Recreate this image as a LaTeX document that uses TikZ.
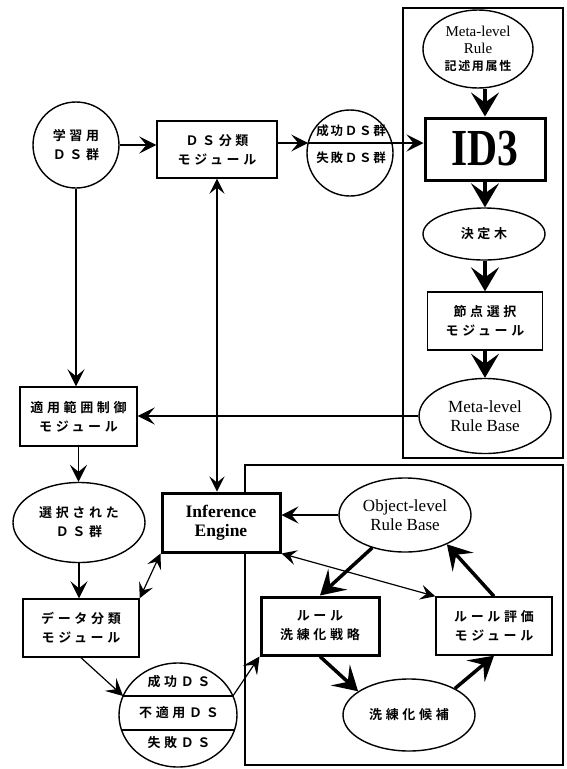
\documentclass[tikz,border=0pt]{standalone}
\usepackage{fontspec}
\setmainfont{Liberation Serif}
\newfontfamily\jp{Noto Sans CJK JP Bold}[LetterSpace=28]
\newfontfamily\jpt{Noto Sans CJK JP Bold}[LetterSpace=14]
\usetikzlibrary{arrows.meta,shapes.geometric,calc}
\begin{document}
\begin{tikzpicture}[x=1pt,y=-1pt,
  every node/.style={inner sep=0pt,align=center},
  jpf/.style={font=\jp\fontsize{13}{19}\selectfont},
  jps/.style={font=\jpt\fontsize{12.5}{17}\selectfont},
  box/.style={draw,line width=1.4pt,fill=white,jpf},
  tbox/.style={draw,line width=3pt,fill=white,jpf},
  ell/.style={draw,ellipse,line width=1.4pt,fill=white,jpf},
  circ/.style={draw,circle,line width=1.4pt,fill=white,jpf},
  frame/.style={line width=1.3pt},
  thin/.style={line width=1.2pt},
  arr/.style={thin,-{Stealth[length=17pt,width=17pt,inset=7pt]}},
  darr/.style={thin,{Stealth[length=15pt,width=15pt,inset=6pt]}-{Stealth[length=15pt,width=15pt,inset=6pt]}},
  tarr/.style={line width=3.5pt,-{Stealth[length=24pt,width=28pt,inset=10pt]}},
  eng/.style={font=\rmfamily\fontsize{17}{19}\selectfont}
]
\useasboundingbox (0,0) rectangle (566,769);
% frames
\draw[frame] (403,8) rectangle (563,458);
\draw[frame] (245,465) rectangle (563,765);

% top-left nodes
\node[circ,minimum size=86pt] (learn) at (76,145) {学習用\\ＤＳ群};
\node[box,minimum width=120pt,minimum height=57pt] (ds) at (217,149.5) {ＤＳ分類\\モジュール};
\node[circ,minimum size=86pt] (cs) at (350,153) {};
\node[jps] (cst) at (351,131) {成功ＤＳ群};
\node[jps] (csb) at (351,158) {失敗ＤＳ群};
\path (cs.center) ++(-41.8,-10) coordinate (cdl) (cs.center) ++(41.8,-10) coordinate (cdr);

% right column
\node[ell,minimum width=110pt,minimum height=78pt,font=\rmfamily\fontsize{15}{17}\selectfont] (meta) at (478,49) {Meta-level\\Rule\\\jpt\fontsize{12}{17}\selectfont 記述用属性};
\node[tbox,minimum width=120pt,minimum height=62pt,font=\rmfamily\bfseries\fontsize{52}{52}\selectfont] (id3) at (485,149) {\scalebox{0.8}[1]{ID3}};
\node[ell,minimum width=122pt,minimum height=52pt] (dtree) at (484,234) {決定木};
\node[box,minimum width=115pt,minimum height=58pt] (nsel) at (485,321) {節点選択\\モジュール};
\node[ell,minimum width=132pt,minimum height=75pt,eng] (mrb) at (485,416) {Meta-level\\Rule Base};

% left column
\node[box,minimum width=117pt,minimum height=59pt] (apply) at (78.5,416.5) {適用範囲制御\\モジュール};
\node[ell,minimum width=132pt,minimum height=80pt] (sel) at (79,522.5) {選択された\\ＤＳ群};
\node[tbox,minimum width=118pt,minimum height=59pt,font=\rmfamily\bfseries\fontsize{17.5}{19}\selectfont] (ie) at (221,522.5) {Inference\\Engine};
\node[box,minimum width=116pt,minimum height=58pt] (data) at (81,628) {データ分類\\モジュール};
\node[ell,minimum width=118pt,minimum height=104pt] (res) at (178,715) {};
\node[jpf] (r1) at (179,682) {成功ＤＳ};
\node[jpf] (r2) at (179,713) {不適用ＤＳ};
\node[jpf] (r3) at (179,743) {失敗ＤＳ};
\path (res.center) ++(-54.9,-19) coordinate (rul) (res.center) ++(54.9,-19) coordinate (rur);
\path (res.center) ++(-56.5,15) coordinate (rll) (res.center) ++(56.5,15) coordinate (rlr);
\draw[thin] (rul) -- (rur);
\draw[thin] (rll) -- (rlr);

% bottom-right
\node[ell,minimum width=132pt,minimum height=74pt,eng] (obj) at (405,515) {Object-level\\Rule Base};
\node[tbox,minimum width=118pt,minimum height=58pt] (rule) at (320,626) {ルール\\洗練化戦略};
\node[box,minimum width=116pt,minimum height=58pt] (eval) at (494,626) {ルール評価\\モジュール};
\node[ell,minimum width=132pt,minimum height=72pt] (cand) at (409,715) {洗練化候補};

% connectors top
\draw[arr] (learn.east) -- (learn.east -| ds.west);
\draw[arr] (ds.east |- cdl) -- (cdl);
\draw[thin] (cdl) -- (cdr);
\draw[arr] (cdr) -- (cdr -| id3.west);
\draw[tarr] (id3.north |- meta.south) -- (id3.north);
\draw[tarr] (id3.south) -- (id3.south |- dtree.north);
\draw[tarr] (dtree.south -| nsel.north) -- (nsel.north);
\draw[tarr] (nsel.south) -- (mrb.north);
\draw[arr] (mrb.west) -- (mrb.west -| apply.east);
\draw[arr] (learn.south) -- (learn.south |- apply.north);
\draw[darr] (ds.south) -- (ds.south |- ie.north);
\draw[arr] (apply.south) -- (apply.south |- sel.north);
\draw[arr] (sel.south) -- (sel.south |- data.north);
\draw[darr] (ie.south west) -- (data.north east);
\draw[arr] (data.south) -- (rul);
\draw[arr] (rur) -- (rule.south west);
\draw[arr] (obj.west) -- (obj.west -| ie.east);
\draw[darr] (ie.south east) -- (eval.north west);
\draw[tarr] (obj.225) -- (rule.north);
\draw[tarr] (rule.south) -- (cand.155);
\draw[tarr] (cand.30) -- (eval.south);
\draw[tarr] (eval.north) -- (obj.-35);
\end{tikzpicture}
\end{document}
